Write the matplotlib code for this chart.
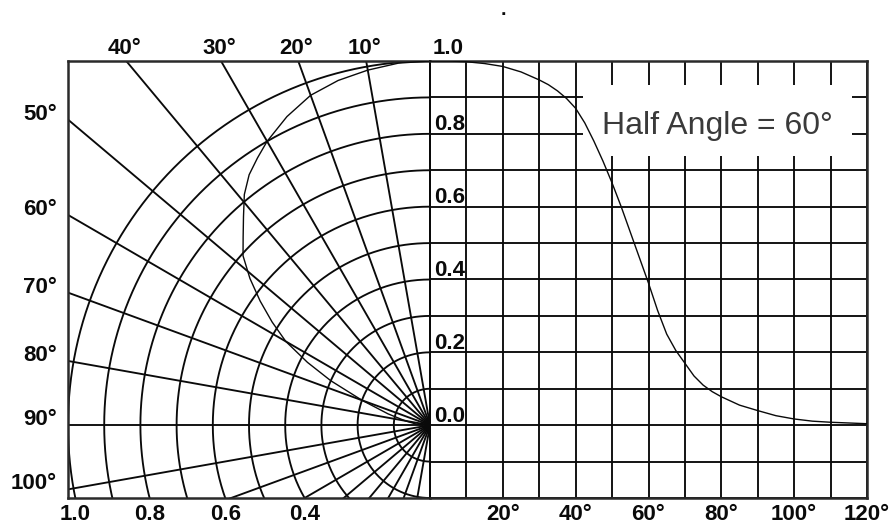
import numpy as np
import matplotlib
matplotlib.use("Agg")
import matplotlib.pyplot as plt
from matplotlib.patches import Rectangle

plt.rcParams['font.family'] = ['Liberation Sans', 'DejaVu Sans']

# right side: relative intensity vs angle (rectangular trace)
rect_angle = [0, 5, 10, 15, 20, 25, 30, 32.5, 35, 37.5, 40, 42.5, 45, 47.5,
              50, 52.5, 55, 57.5, 60, 62.5, 65, 67.5, 70, 72.5, 75, 77.5,
              80, 85, 90, 95, 100, 105, 110, 115, 120]
rect_intensity = [1.0, 1.0, 0.998, 0.993, 0.985, 0.97, 0.948, 0.935, 0.918,
                  0.897, 0.87, 0.83, 0.78, 0.725, 0.665, 0.6, 0.53, 0.46,
                  0.39, 0.315, 0.25, 0.205, 0.17, 0.135, 0.11, 0.092,
                  0.078, 0.055, 0.04, 0.026, 0.017, 0.011, 0.008, 0.006, 0.004]

# left side: same pattern as drawn on the polar grid
polar_angle = [0, 5, 10, 15, 20, 25, 30, 33, 36, 39, 42, 45, 48, 51, 54, 57,
               60, 63, 66, 70, 75, 80, 85, 90]
polar_intensity = [1.0, 0.998, 0.99, 0.98, 0.964, 0.935, 0.90, 0.875, 0.85,
                   0.815, 0.77, 0.73, 0.695, 0.64, 0.58, 0.52, 0.46, 0.38,
                   0.3, 0.2, 0.12, 0.07, 0.04, 0.02]

rect_xticks = ['20°', '40°', '60°', '80°', '100°', '120°']
top_labels = ['40°', '30°', '20°', '10°']
side_labels = ['50°', '60°', '70°', '80°', '90°', '100°']
radius_labels = ['1.0', '0.8', '0.6', '0.4']
inner_labels = ['0.8', '0.6', '0.4', '0.2', '0.0']
note = 'Half Angle = 60°'

ink = '#0a0a0a'
grid_lw = 1.35
W, H = 891, 529
fig = plt.figure(figsize=(W / 100, H / 100), dpi=100)
fig.patch.set_facecolor('white')

# pixel frame of the drawing
x0, xm, x1 = 68, 430, 867
ytop, ybot = 61, 498
ax_p = fig.add_axes([x0 / W, 1 - ybot / H, (xm - x0) / W, (ybot - ytop) / H])
ax_r = fig.add_axes([xm / W, 1 - ybot / H, (x1 - xm) / W, (ybot - ytop) / H])

ax_p.set_xlim(-1.0, 0)
ax_p.set_ylim(-0.2, 1.0)
ax_r.set_xlim(0, 120)
ax_r.set_ylim(-0.2, 1.0)

lbl = dict(fontsize=16, fontweight='bold', color=ink)

# ---- polar half (left)
t = np.radians(np.linspace(0, 180, 361))
for r in np.arange(0.1, 1.01, 0.1):
    ax_p.plot(-r * np.sin(t), r * np.cos(t), color=ink, lw=grid_lw)
for a in range(0, 181, 10):
    ar = np.radians(a)
    ax_p.plot([0, -2 * np.sin(ar)], [0, 2 * np.cos(ar)], color=ink, lw=grid_lw)

pa = np.radians(polar_angle)
pr = np.array(polar_intensity)
ax_p.plot(-pr * np.sin(pa), pr * np.cos(pa), color=ink, lw=1.0, zorder=3)

ax_p.set_xticks([])
ax_p.set_yticks([])
for s in ['left', 'top', 'bottom']:
    ax_p.spines[s].set_linewidth(1.8)
    ax_p.spines[s].set_color('#2a2a2a')
ax_p.spines['right'].set_visible(False)

for txt in top_labels:
    a = np.radians(int(txt[:-1]))
    ax_p.annotate(txt, xy=(-np.tan(a), 1.0), xytext=(-1.5, 5),
                  textcoords='offset points', ha='center', va='baseline',
                  annotation_clip=False, **lbl)
for txt in side_labels:
    a = np.radians(int(txt[:-1]))
    yy = max(np.cos(a) / np.sin(a), -0.195)
    ax_p.annotate(txt, xy=(-1.0, yy), xytext=(-8, 0),
                  textcoords='offset points', ha='right', va='baseline',
                  annotation_clip=False, **lbl)
for txt in radius_labels:
    r = float(txt)
    ax_p.annotate(txt, xy=(-np.sqrt(r ** 2 - 0.04), -0.2), xytext=(0, -4),
                  textcoords='offset points', ha='center', va='top',
                  annotation_clip=False, **lbl)

# ---- rectangular half (right)
ax_r.set_xticks(range(0, 121, 10))
ax_r.set_xticklabels(['' if v == 0 or v % 20 else f'{v}°' for v in range(0, 121, 10)])
ax_r.set_yticks(np.round(np.arange(-0.2, 1.01, 0.1), 2))
ax_r.set_yticklabels([])
ax_r.grid(True, color=ink, lw=grid_lw)
ax_r.tick_params(length=0, pad=4, labelsize=16, labelcolor=ink)
for t_ in ax_r.get_xticklabels():
    t_.set_fontweight('bold')
for s in ['right', 'top', 'bottom']:
    ax_r.spines[s].set_linewidth(1.8)
    ax_r.spines[s].set_color('#2a2a2a')
ax_r.spines['left'].set_linewidth(grid_lw)
ax_r.spines['left'].set_color(ink)

ax_r.add_patch(Rectangle((42, 0.738), 74, 0.197, facecolor='white',
                         edgecolor='none', zorder=2.5))
ax_r.text(79, 0.80, note, ha='center', va='baseline', fontsize=23,
          color='#3a3a3a', zorder=3)
ax_r.plot(rect_angle, rect_intensity, color=ink, lw=1.0, zorder=3)

for txt in inner_labels:
    ax_r.annotate(txt, xy=(0, float(txt)), xytext=(3, 2.5),
                  textcoords='offset points', ha='left', va='baseline',
                  zorder=4, **lbl)
ax_r.annotate('1.0', xy=(0, 1.0), xytext=(2, 5), textcoords='offset points',
              ha='left', va='baseline', annotation_clip=False, **lbl)

fig.text(503 / W, 1 - 15 / H, '.', ha='center', va='baseline',
         fontsize=14, fontweight='bold', color=ink)

fig.savefig('out.png', dpi=100)
